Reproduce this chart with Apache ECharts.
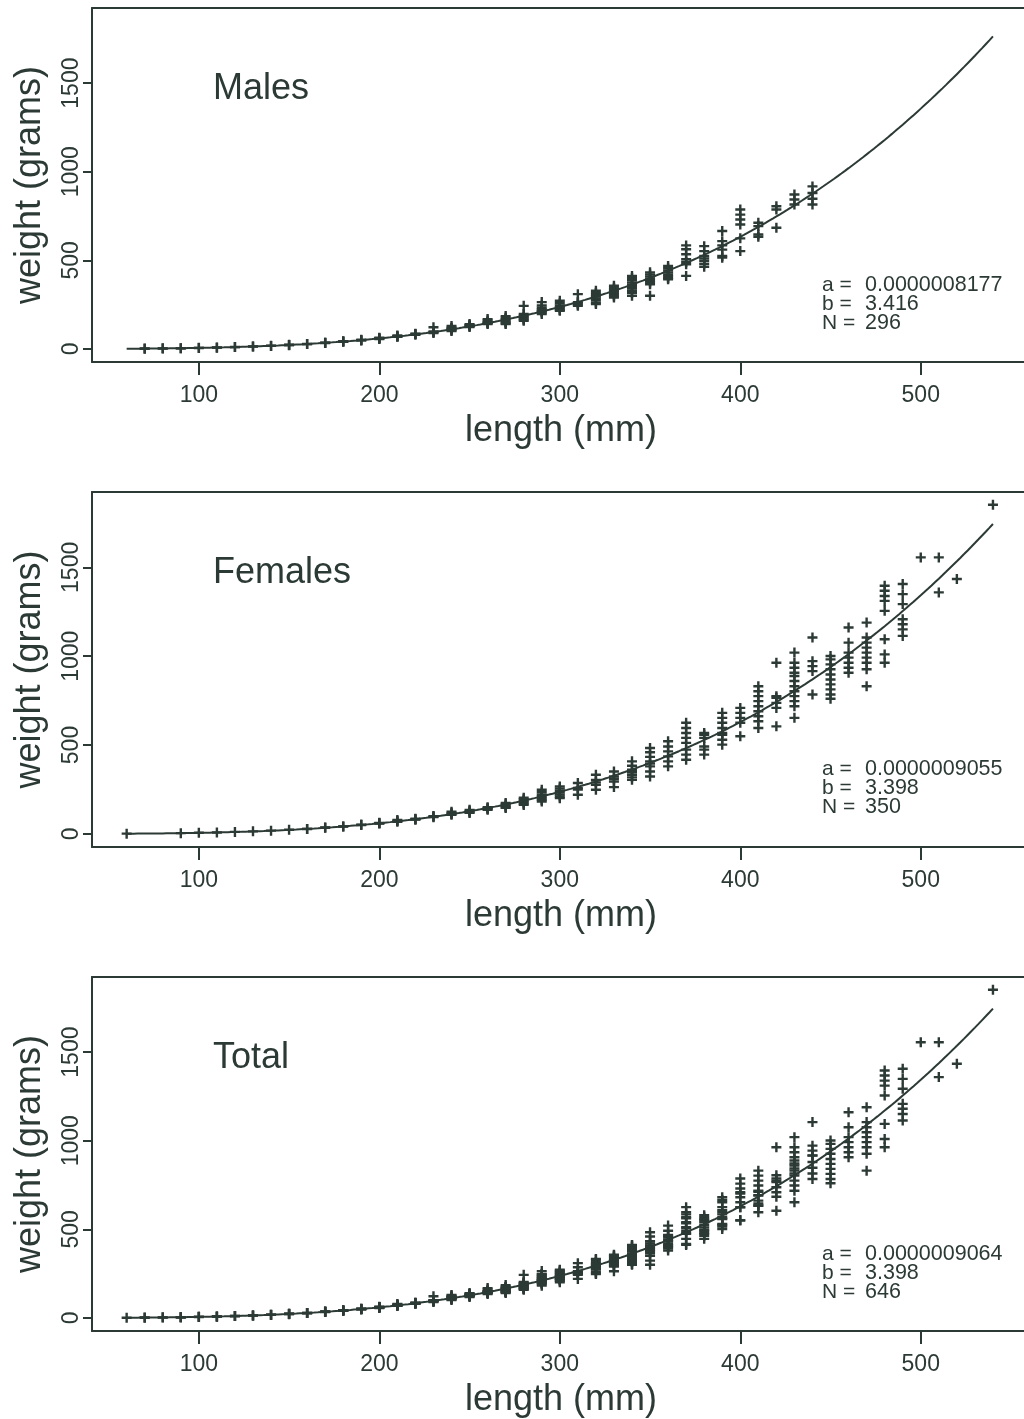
<!DOCTYPE html>
<html>
<head>
<meta charset="utf-8">
<script src="https://cdn.jsdelivr.net/npm/echarts@6/dist/echarts.min.js"></script>
<style>
  html, body { margin: 0; padding: 0; background: #ffffff; }
  #chart { width: 1024px; height: 1419px; }
</style>
</head>
<body>
<div id="chart"></div>
<script>
// Length-weight relationship, W = a * L^b, for males, females and all fish.

// Panel names
const panelNames = ['Males', 'Females', 'Total'];

// Fitted parameters and sample sizes per panel
const fitA = [8.177e-7, 9.055e-7, 9.064e-7];
const fitB = [3.416, 3.398, 3.398];
const fitN = [296, 350, 646];

// Axis ticks
const xTicks = [100, 200, 300, 400, 500];
const yTicks = [0, 500, 1000, 1500];

// Males: length classes (mm) and the weights (g) recorded in each class
const maleLengths = [70, 80, 90, 100, 110, 120, 130, 140, 150, 160, 170, 180, 190, 200,
  210, 220, 230, 240, 250, 260, 270, 280, 290, 300, 310, 320, 330, 340, 350, 360,
  370, 380, 390, 400, 410, 420, 430, 440];
const maleWeights = [
  [2, 1], [3, 2], [4, 4], [6, 5], [8, 7], [10, 11], [14, 13], [18, 17], [22, 23, 21],
  [28, 27], [33, 35, 34], [41, 43, 40], [49, 52, 48], [60, 58, 63, 56],
  [72, 70, 76, 68], [84, 80, 86], [122, 94, 98, 90], [129, 120, 112, 105, 101, 116],
  [140, 135, 128, 123, 131], [168, 160, 152, 145, 140, 148],
  [185, 176, 168, 160, 152, 145, 140], [243, 197, 188, 180, 172, 165, 159],
  [264, 245, 232, 222, 212, 205, 197, 216], [272, 258, 245, 236, 228, 220, 215],
  [309, 264, 258, 250, 243], [328, 315, 304, 295, 285, 275, 262, 253],
  [356, 345, 335, 328, 318, 308, 300, 290],
  [412, 400, 388, 375, 362, 350, 340, 328, 316, 300],
  [432, 420, 408, 396, 385, 376, 365, 300], [468, 455, 443, 432, 420, 410, 400, 393],
  [584, 562, 534, 506, 490, 478, 412], [580, 552, 524, 510, 496, 480, 464],
  [665, 608, 584, 560, 524, 515], [787, 758, 730, 702, 624, 552],
  [712, 693, 646, 633], [805, 787, 684], [871, 843, 815], [917, 880, 847, 815]
];

// Females: length classes (mm) and the weights (g) recorded in each class
const femaleLengths = [60, 90, 100, 110, 120, 130, 140, 150, 160, 170, 180, 190, 200,
  210, 220, 230, 240, 250, 260, 270, 280, 290, 300, 310, 320, 330, 340, 350, 360,
  370, 380, 390, 400, 410, 420, 430, 440, 450, 460, 470, 480, 490, 500, 510, 520, 540];
const femaleWeights = [
  [1], [4], [6], [8], [11], [14], [18], [23], [28, 27], [34, 36], [42, 41], [50, 52],
  [60, 58, 62], [78, 72, 68], [82, 85, 80], [97, 94, 100], [125, 118, 112, 107],
  [135, 128, 122, 118], [150, 145, 140, 135], [174, 166, 158, 150, 146],
  [203, 195, 187, 178, 170, 163], [248, 235, 222, 212, 200, 191, 182],
  [267, 255, 243, 232, 221, 210, 201], [286, 258, 250, 220],
  [333, 304, 290, 276, 248], [351, 323, 310, 295, 263],
  [408, 383, 361, 347, 333, 318, 304], [483, 459, 433, 408, 395, 380, 351, 323],
  [521, 492, 464, 436, 408, 380], [625, 596, 568, 540, 512, 474, 446, 417],
  [568, 558, 540, 492, 474, 446], [681, 653, 625, 596, 568, 558, 530, 502],
  [709, 681, 653, 625, 549], [831, 803, 775, 747, 718, 690, 662, 634, 596],
  [963, 775, 766, 737, 709, 605],
  [1020, 963, 935, 907, 888, 860, 831, 803, 775, 747, 718, 653],
  [1105, 972, 944, 916, 784], [1001, 982, 954, 926, 897, 869, 841, 813, 784, 760],
  [1161, 1076, 1020, 992, 963, 935, 907],
  [1189, 1105, 1076, 1048, 1020, 992, 963, 926, 831],
  [1396, 1368, 1339, 1311, 1255, 1095, 1010, 963],
  [1406, 1349, 1293, 1208, 1180, 1151, 1114],
  [1556], [1556, 1359], [1434], [1852]
];

function toPoints(lengths, weights) {
  const pts = [];
  lengths.forEach(function (len, i) {
    weights[i].forEach(function (w) { pts.push([len, w]); });
  });
  return pts;
}

const malePoints = toPoints(maleLengths, maleWeights);
const femalePoints = toPoints(femaleLengths, femaleWeights);
const panelPoints = [malePoints, femalePoints, malePoints.concat(femalePoints)];

// Length span of the fitted curve: all measured fish
const allLengths = maleLengths.concat(femaleLengths);
const curveFrom = Math.min.apply(null, allLengths);
const curveTo = Math.max.apply(null, allLengths);

// Fitted curve W = a * L^b, sampled along the measured length span
function fittedCurve(a, b) {
  const pts = [];
  for (let len = curveFrom; len <= curveTo; len += 2) pts.push([len, a * Math.pow(len, b)]);
  return pts;
}

// Layout
const INK = '#2c3a35';
const FONT = '"Liberation Sans", Arial, Helvetica, sans-serif';
const gridLeft = 92, gridRight = 0;
const panelTop = [8, 492, 977];
const panelHeight = [354, 355, 354];
// x range runs past the right edge of the page, so the right side of the frame is cut off
const xMin = 40.8, xMax = 557.2, yMin = -74, yMax = 1924;

const plusSymbol = 'path://M3.8,0H6.2V3.8H10V6.2H6.2V10H3.8V6.2H0V3.8H3.8Z';
const frameLine = { show: true, onZero: false, lineStyle: { color: INK, width: 2 } };

const grids = [], xAxes = [], yAxes = [], series = [], graphics = [];

panelNames.forEach(function (name, i) {
  grids.push({
    left: gridLeft, right: gridRight, top: panelTop[i], height: panelHeight[i],
    show: false, containLabel: false
  });
  // bottom axis with ticks and labels
  xAxes.push({
    gridIndex: i, type: 'value', position: 'bottom', min: xMin, max: xMax,
    name: 'length (mm)', nameLocation: 'middle', nameGap: 51,
    nameTextStyle: { fontSize: 36, color: INK, fontFamily: FONT, padding: [0, 0, 0, 6] },
    axisLine: frameLine,
    splitLine: { show: false },
    axisTick: { show: true, customValues: xTicks, length: 13, lineStyle: { color: INK, width: 2 } },
    axisLabel: { customValues: xTicks, margin: 22, fontSize: 23, color: INK, fontFamily: FONT,
      formatter: function (v) { return String(v); } }
  });
  // top edge of the frame
  xAxes.push({
    gridIndex: i, type: 'value', position: 'top', min: xMin, max: xMax,
    axisLine: frameLine, axisTick: { show: false }, axisLabel: { show: false },
    splitLine: { show: false }
  });
  yAxes.push({
    gridIndex: i, type: 'value', position: 'left', min: yMin, max: yMax,
    name: 'weight (grams)', nameLocation: 'middle', nameGap: 44,
    nameTextStyle: { fontSize: 36, color: INK, fontFamily: FONT },
    axisLine: frameLine,
    splitLine: { show: false },
    axisTick: { show: true, customValues: yTicks, length: 9, lineStyle: { color: INK, width: 2 } },
    axisLabel: { customValues: yTicks, rotate: 90, margin: 9, fontSize: 23, color: INK, fontFamily: FONT,
      formatter: function (v) { return String(v); } }
  });
  series.push({
    type: 'scatter', xAxisIndex: 2 * i, yAxisIndex: i,
    data: panelPoints[i], symbol: plusSymbol, symbolSize: [10, 10],
    itemStyle: { color: INK, opacity: 1 }, silent: true, z: 2
  });
  series.push({
    type: 'line', xAxisIndex: 2 * i, yAxisIndex: i,
    data: fittedCurve(fitA[i], fitB[i]), showSymbol: false, smooth: false,
    lineStyle: { color: INK, width: 2 }, silent: true, z: 3
  });

  const top = panelTop[i];
  graphics.push({
    type: 'text', x: 213, y: top + 81,
    style: { text: name, font: '36px ' + FONT, fill: INK,
      textVerticalAlign: 'middle', verticalAlign: 'middle' }
  });
  const lines = [
    ['a =', fitA[i].toFixed(10)],
    ['b =', fitB[i].toFixed(3)],
    ['N =', String(fitN[i])]
  ];
  lines.forEach(function (ln, k) {
    const y = top + 277 + k * 19;
    graphics.push({
      type: 'text', x: 822, y: y,
      style: { text: ln[0], font: '21px ' + FONT, fill: INK,
        textVerticalAlign: 'middle', verticalAlign: 'middle' }
    });
    graphics.push({
      type: 'text', x: 865, y: y,
      style: { text: ln[1], font: '21.5px ' + FONT, fill: INK,
        textVerticalAlign: 'middle', verticalAlign: 'middle' }
    });
  });
});

const chart = echarts.init(document.getElementById('chart'), null, { renderer: 'canvas' });
chart.setOption({
  animation: false,
  backgroundColor: '#ffffff',
  grid: grids,
  xAxis: xAxes,
  yAxis: yAxes,
  series: series,
  graphic: graphics
});
</script>
</body>
</html>
